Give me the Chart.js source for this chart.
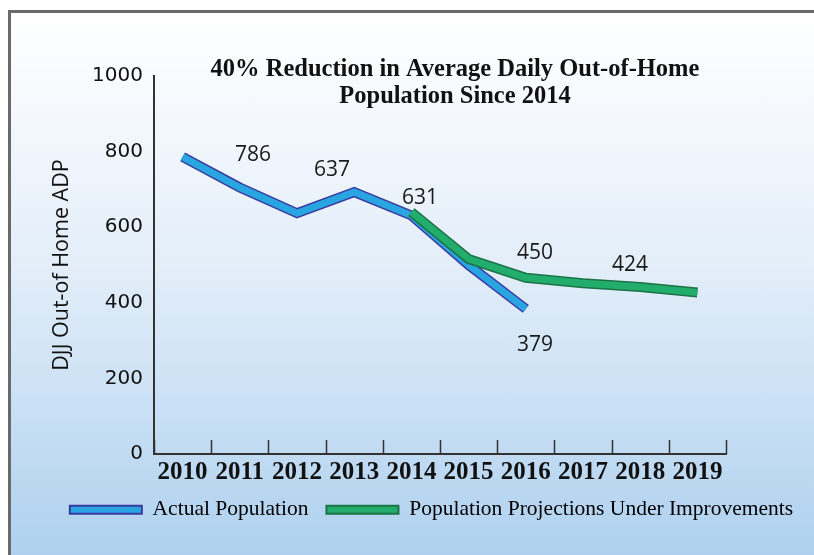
<!DOCTYPE html>
<html>
<head>
<meta charset="utf-8">
<script src="https://cdn.jsdelivr.net/npm/chart.js@4.4.1/dist/chart.umd.min.js"></script>
<style>
  html, body { margin: 0; padding: 0; background: #fff; }
  #frame {
    position: absolute; left: 8px; top: 10px; width: 820px; height: 560px;
    border-left: 3px solid #6a6a6a; border-top: 3px solid #6a6a6a;
    background: linear-gradient(to bottom, #ffffff 0%, #e3eef9 45%, #abcfee 100%);
  }
  #wrap { position: absolute; left: 0; top: 0; width: 814px; height: 555px; }
</style>
</head>
<body>
<div id="frame"></div>
<div id="wrap"><canvas id="c" width="814" height="555"></canvas></div>
<script>
const years = ['2010','2011','2012','2013','2014','2015','2016','2017','2018','2019'];
const actualPop = [786, 705, 637, 693, 631, 500, 384, null, null, null];
const projectedPop = [null, null, null, null, 640, 516, 466, 452, 442, 427];
const yTicks = [0, 200, 400, 600, 800, 1000];
// value labels: text, category position, value position
const valueLabels = [
  { text: '786', x: 1.23, y: 791 },
  { text: '637', x: 2.61, y: 751 },
  { text: '631', x: 4.15, y: 677 },
  { text: '450', x: 6.16, y: 532 },
  { text: '424', x: 7.82, y: 500 },
  { text: '379', x: 6.16, y: 288 }
];
const titleLines = ['40% Reduction in Average Daily Out-of-Home', 'Population Since 2014'];

const blueFill = '#29a6e1', blueEdge = '#3a3aa0';
const greenFill = '#22ad6c', greenEdge = '#1b7447';

const overlay = {
  id: 'overlay',
  afterDraw(chart) {
    const ctx = chart.ctx, x = chart.scales.x, y = chart.scales.y;
    const area = chart.chartArea;
    const half = (x.getPixelForValue(1) - x.getPixelForValue(0)) / 2;
    ctx.save();
    // inward tick marks on x axis
    ctx.strokeStyle = '#333';
    ctx.lineWidth = 1.5;
    for (let i = 0; i <= years.length; i++) {
      const px = Math.round(x.getPixelForValue(i) - half) + 0.5;
      ctx.beginPath();
      ctx.moveTo(px, area.bottom);
      ctx.lineTo(px, area.bottom - 14);
      ctx.stroke();
    }
    // value labels
    ctx.fillStyle = '#1a1a1a';
    ctx.font = '21px "Open Sans"';
    ctx.textAlign = 'center';
    ctx.textBaseline = 'middle';
    valueLabels.forEach(l => {
      const px = x.getPixelForValue(0) + l.x * half * 2;
      ctx.fillText(l.text, px, y.getPixelForValue(l.y));
    });
    // title
    ctx.font = 'bold 24.5px "Liberation Serif"';
    ctx.fillStyle = '#111';
    ctx.fillText(titleLines[0], 455, 70);
    ctx.fillText(titleLines[1], 455, 97);
    ctx.restore();
  }
};

new Chart(document.getElementById('c'), {
  type: 'line',
  data: {
    labels: years,
    datasets: [
      { label: 'Population Projections Under Improvements', data: projectedPop, borderColor: greenFill, backgroundColor: greenFill, borderWidth: 7, pointRadius: 0, fill: false, order: 0, borderJoinStyle: 'miter', legendEdge: greenEdge },
      { label: '_pEdge', data: projectedPop, borderColor: greenEdge, borderWidth: 10, pointRadius: 0, fill: false, order: 1, borderJoinStyle: 'miter' },
      { label: 'Actual Population', data: actualPop, borderColor: blueFill, backgroundColor: blueFill, borderWidth: 7, pointRadius: 0, fill: false, order: 2, borderJoinStyle: 'miter', legendEdge: blueEdge },
      { label: '_aEdge', data: actualPop, borderColor: blueEdge, borderWidth: 10, pointRadius: 0, fill: false, order: 3, borderJoinStyle: 'miter' }
    ]
  },
  options: {
    responsive: false,
    animation: false,
    layout: { padding: { left: 49, right: 0, top: 76, bottom: 24.5 } },
    scales: {
      x: {
        offset: true,
        afterFit(s) { s.height = 27; },
        grid: { display: false, offset: true, drawTicks: false },
        border: { display: true, color: '#333', width: 2 },
        ticks: { color: '#111', font: { family: 'Liberation Serif', weight: 'bold', size: 25, lineHeight: 1 }, padding: 6, maxRotation: 0, autoSkip: false }
      },
      y: {
        min: 0, max: 1000,
        afterBuildTicks(s) { s.ticks = yTicks.map(v => ({ value: v })); },
        afterFit(s) { s.width = 105; },
        grid: { display: false, drawTicks: false },
        border: { display: true, color: '#333', width: 2 },
        ticks: { color: '#111', font: { family: 'DejaVu Sans', size: 20 }, padding: 11, callback: v => String(v) },
        title: { display: true, text: 'DJJ Out-of Home ADP', color: '#111', font: { family: 'Open Sans', size: 21.5 }, padding: 0 }
      },
      spacer: {
        position: 'right',
        afterFit(s) { s.width = 88; },
        grid: { display: false, drawTicks: false },
        border: { display: false },
        ticks: { display: false }
      }
    },
    plugins: {
      tooltip: { enabled: false },
      legend: {
        position: 'bottom',
        reverse: true,
        labels: {
          filter: item => !item.text.startsWith('_'),
          generateLabels(chart) {
            return chart.data.datasets.map((d, i) => ({
              text: d.label, fillStyle: d.backgroundColor, strokeStyle: d.legendEdge, lineWidth: 2, datasetIndex: i, hidden: false
            }));
          },
          boxWidth: 72, boxHeight: 8, padding: 18,
          color: '#111', font: { family: 'Liberation Serif', size: 21.5 }
        }
      }
    }
  },
  plugins: [overlay]
});
</script>
</body>
</html>
